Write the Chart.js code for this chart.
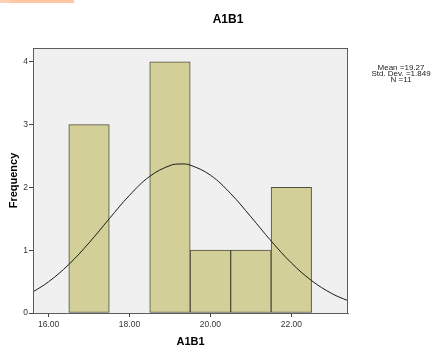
<!DOCTYPE html>
<html>
<head>
<meta charset="utf-8">
<script src="https://cdn.jsdelivr.net/npm/chart.js@4/dist/chart.umd.min.js"></script>
<style>
  html, body { margin: 0; padding: 0; background: #fff; }
  #wrap { position: relative; width: 436px; height: 347px; }
  #strip { position: absolute; left: 0; top: 0; width: 74px; height: 3px;
           background: linear-gradient(90deg, #ffd2b8 0 9px, #ffc6a4 12px 100%); }
</style>
</head>
<body>
<div id="wrap">
  <canvas id="hist" width="436" height="347"></canvas>
  <div id="strip"></div>
</div>
<script>
// histogram bins (centres, width 1) and counts
const binCenters = [17, 18, 19, 20, 21, 22];
const counts = [3, 0, 4, 1, 1, 2];

// normal curve
const curveX = [15.615, 16, 16.5, 17, 17.5, 18, 18.5, 19, 19.27, 19.5, 20, 20.5, 21, 21.5, 22, 22.5, 23, 23.4];
const curveY = [0.336, 0.497, 0.773, 1.117, 1.501, 1.874, 2.176, 2.348, 2.373, 2.355, 2.195, 1.902, 1.532, 1.147, 0.798, 0.516, 0.310, 0.196];

const xTicks = [16, 18, 20, 22];
const yTicks = [0, 1, 2, 3, 4];
const statsLines = ['Mean =19.27', 'Std. Dev. =1.849', 'N =11'];

const FONT = 'Arial, "Liberation Sans", sans-serif';

const frame = {
    id: 'frame',
    beforeDraw(chart) {
        const { ctx, chartArea: a } = chart;
        ctx.save();
        ctx.fillStyle = '#f0f0f0';
        ctx.fillRect(a.left, a.top, a.right - a.left, a.bottom - a.top);
        ctx.restore();
    },
    afterDraw(chart) {
        const { ctx, chartArea: a } = chart;
        ctx.save();
        ctx.strokeStyle = '#5c5c5c';
        ctx.lineWidth = 1;
        ctx.strokeRect(a.left + 0.5, a.top + 0.5, a.right - a.left - 1, a.bottom - a.top);

        // title
        ctx.fillStyle = '#000';
        ctx.font = 'bold 12px ' + FONT;
        ctx.textAlign = 'center';
        ctx.textBaseline = 'alphabetic';
        ctx.fillText('A1B1', 228, 23);

        // stats box, squeezed text like the original
        ctx.font = '8px ' + FONT;
        ctx.fillStyle = '#222';
        statsLines.forEach((t, i) => {
            ctx.save();
            ctx.translate(401, 70 + i * 5.8);
            ctx.scale(1, 0.82);
            ctx.fillText(t, 0, 0);
            ctx.restore();
        });
        ctx.restore();
    }
};

new Chart(document.getElementById('hist'), {
    type: 'bar',
    data: {
        datasets: [{
            type: 'bar',
            data: binCenters.map((x, i) => ({ x: x, y: counts[i] })),
            backgroundColor: '#d3cf98',
            borderColor: '#4f4f3c',
            borderWidth: 1,
            borderSkipped: false,
            barPercentage: 1,
            categoryPercentage: 1,
            order: 2
        }, {
            type: 'line',
            data: curveX.map((x, i) => ({ x: x, y: curveY[i] })),
            borderColor: '#1a1a1a',
            borderWidth: 1,
            pointRadius: 0,
            tension: 0.4,
            fill: false,
            order: 1
        }]
    },
    options: {
        responsive: false,
        animation: false,
        devicePixelRatio: 1,
        layout: { padding: { top: 48, right: 88, left: 0, bottom: 0 } },
        plugins: {
            legend: { display: false },
            tooltip: { enabled: false }
        },
        scales: {
            x: {
                type: 'linear',
                min: 15.615,
                max: 23.4,
                offset: false,
                afterBuildTicks: s => { s.ticks = xTicks.map(v => ({ value: v })); },
                afterFit: s => { s.height = 34; },
                grid: { display: true, offset: false, drawOnChartArea: false, drawTicks: true, tickLength: 4, color: '#444' },
                border: { display: true, color: '#5c5c5c' },
                ticks: {
                    padding: 3,
                    color: '#333',
                    font: { family: FONT, size: 8.5 },
                    callback: v => v.toFixed(2)
                },
                title: {
                    display: true,
                    text: 'A1B1',
                    color: '#000',
                    font: { family: FONT, size: 11, weight: 'bold', lineHeight: 1 },
                    padding: { top: 0, bottom: 0 }
                }
            },
            y: {
                min: 0,
                max: 4.22,
                afterBuildTicks: s => { s.ticks = yTicks.map(v => ({ value: v })); },
                afterFit: s => { s.width = 33; },
                grid: { display: true, drawOnChartArea: false, drawTicks: true, tickLength: 4, color: '#444' },
                border: { display: true, color: '#5c5c5c' },
                ticks: {
                    padding: 1,
                    color: '#333',
                    font: { family: FONT, size: 8.5 }
                },
                title: {
                    display: true,
                    text: 'Frequency',
                    color: '#000',
                    font: { family: FONT, size: 11, weight: 'bold', lineHeight: 1.2 },
                    padding: { top: 7, bottom: 0 }
                }
            }
        }
    },
    plugins: [frame]
});
</script>
</body>
</html>
